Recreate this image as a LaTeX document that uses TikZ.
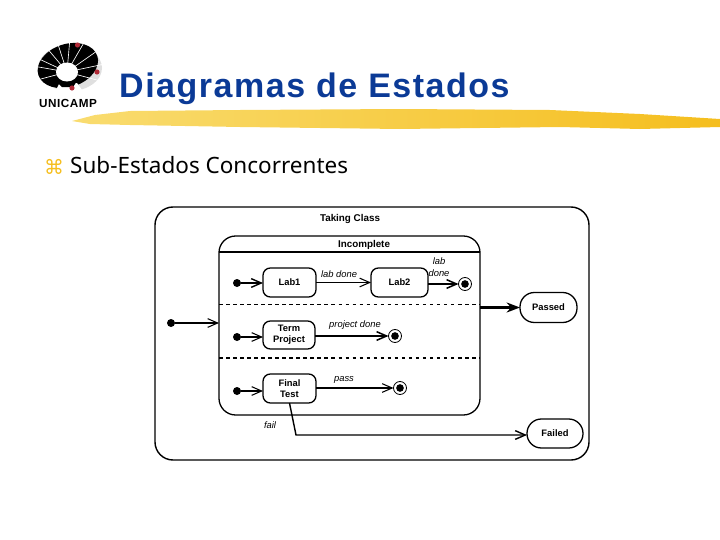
\documentclass[tikz,border=0pt]{standalone}
\usepackage{fontspec}
\setmainfont{Liberation Sans}
\newfontfamily\titlefont[LetterSpace=4.5]{Liberation Sans}
\newfontfamily\bodyfont{Noto Sans}
\newfontfamily\symfont{DejaVu Sans}
\usetikzlibrary{arrows.meta,positioning,calc}
\definecolor{titleblue}{HTML}{0B3A96}
\definecolor{brushlight}{HTML}{F9DC70}
\definecolor{brushdark}{HTML}{F5BE1E}
\definecolor{dotred}{HTML}{B02A37}
\tikzset{
  state/.style={draw, line width=1.1pt, rounded corners=2.2mm, align=center, outer sep=0pt,
    font=\bfseries\fontsize{8}{9}\selectfont, inner sep=0pt},
  stadium/.style={state, rounded corners=4.3mm},
  initial/.style={circle, fill=black, minimum size=2.4mm, inner sep=0pt, outer sep=0pt},
  finalstate/.style={circle, draw, line width=.7pt, fill=white, minimum size=3.9mm, inner sep=0pt, outer sep=0pt,
    path picture={\fill[black] (path picture bounding box.center) circle (1.15mm);}},
  barb/.style={-{Straight Barb[length=3mm,width=2.6mm]}, line width=.9pt},
  trigger/.style={font=\itshape\fontsize{8}{10}\selectfont, align=center, inner sep=0pt},
}
\begin{document}
\begin{tikzpicture}[x=0.3mm,y=-0.3mm]
\useasboundingbox (0,0) rectangle (720,540);
% logo
\fill[gray!25] (70,68) ellipse (32 and 23);
\fill[rotate around={18:(68,66)}] (68,65.5) ellipse (31 and 21.5);
\foreach \ang in {-155,-130,-108,-85,-60,-35,-12,15,165,190}
  \draw[white, line width=.55pt] (67,72) -- ++(\ang:40);
\fill[white] (67,72) ellipse (11 and 9.5);
\fill[white] (77,83) -- (59,84) -- (55,92) -- (85,94) -- cycle;
\fill[black] (58,83) -- (77,81) -- (73,87) -- (62,87) -- cycle;
\fill[dotred] (77.5,45) circle (2.6) (97,72) circle (2.6) (72,88) circle (2.6);
\node[font=\titlefont\bfseries\fontsize{10}{10}\selectfont, inner sep=0pt] (unicamp) at (68,103) {UNICAMP};
% heading
\shade[left color=brushlight, right color=brushdark]
  (72,121) -- (95,115) -- (130,111) -- (240,110) -- (400,109) -- (550,110) -- (640,114) -- (720,119)
  -- (720,127) -- (640,129) -- (560,127) -- (400,129) -- (240,127) -- (130,125) -- (90,124) -- cycle;
\node[anchor=base west, inner sep=0pt, text=titleblue, font=\titlefont\bfseries\fontsize{29}{32}\selectfont] (title) at (119,97) {Diagramas de Estados};
\node[anchor=base west, inner sep=0pt, text=brushdark, font=\symfont\fontsize{17}{18}\selectfont] (bullet) at (44,174) {⌘};
\node[anchor=base west, inner sep=0pt, font=\bodyfont\fontsize{19.2}{22}\selectfont] (subtitle) at (70,173) {Sub-Estados Concorrentes};
% composite states
\draw[line width=1.2pt, rounded corners=5.4mm] (155,207) rectangle (589,460);
\node[state, minimum width=78.3mm, minimum height=53.7mm, rounded corners=5mm] (incomplete) at (349.5,325.5) {};
\coordinate (headl) at (219,252);
\coordinate (headr) at (480,252);
\draw[line width=1.1pt] (headl) -- (headr);
\draw[dashed, line width=.8pt] (219,304) -- (480,304);
\draw[dashed, line width=1pt] (219,358) -- (480,358);
\node[font=\bfseries\fontsize{8.4}{9}\selectfont, inner sep=0pt] (takingclass) at (350,219) {Taking Class};
\node[font=\bfseries\fontsize{8.4}{9}\selectfont, inner sep=0pt] (incompletelabel) at (364,245) {Incomplete};
% states
\node[state, minimum width=15.9mm, minimum height=8.7mm] (lab1) at (289.5,282.5) {Lab1};
\node[state, minimum width=17.1mm, minimum height=8.7mm] (lab2) at (399.5,282.5) {Lab2};
\node[state, minimum width=15.6mm, minimum height=8.4mm] (term) at (289,335) {Term\\Project};
\node[state, minimum width=15.9mm, minimum height=8.7mm] (finaltest) at (289.5,388.5) {Final\\Test};
\node[stadium, minimum width=17.1mm, minimum height=9mm] (passed) at (548.5,307.5) {Passed};
\node[stadium, minimum width=16.8mm, minimum height=8.7mm] (failed) at (555,433.5) {Failed};
\node[initial] (init0) at (171,323) {};
\node[initial] (init1) at (237,283) {};
\node[initial] (init2) at (237,337) {};
\node[initial] (init3) at (237,391) {};
\node[finalstate] (end1) at (465,284) {};
\node[finalstate] (end2) at (395,336) {};
\node[finalstate] (end3) at (400,388) {};
% transitions
\draw[barb] (init0) -- (incomplete.west |- init0);
\draw[barb, line width=1.2pt] (init1) -- (init1 -| lab1.west);
\draw[barb] (init2) -- (init2 -| term.west);
\draw[barb] (init3) -- (init3 -| finaltest.west);
\draw[barb] (lab1) -- (lab2);
\draw[barb, line width=1.3pt] (lab2.east |- end1) -- (end1);
\draw[barb, line width=1.3pt] (term.east |- end2) -- (end2);
\draw[barb] (finaltest.east |- end3) -- (end3);
\draw[-{Stealth[length=4mm,width=3mm]}, line width=2pt] (incomplete.east |- passed.west) -- (passed.west);
\coordinate (failbend) at (296,435);
\draw[barb, line width=1.2pt] (finaltest.south) -- (failbend) -- (failbend -| failed.west);
% labels
\node[trigger] at (339,274) {lab done};
\node[trigger] at (439,267) {lab\\done};
\node[trigger] at (355,325) {project done};
\node[trigger] at (344,380) {pass};
\node[trigger] at (270,425) {fail};
\end{tikzpicture}
\end{document}
